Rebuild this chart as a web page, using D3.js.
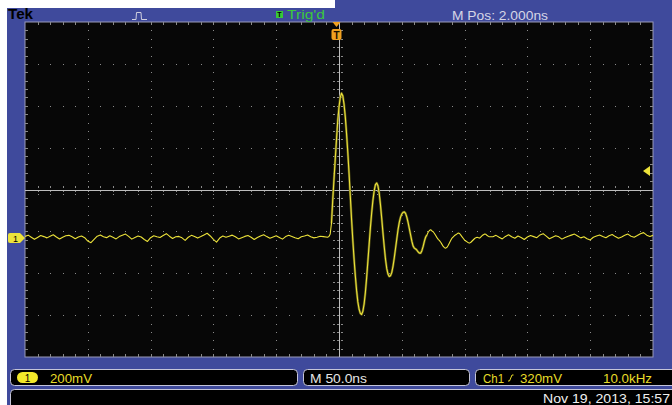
<!DOCTYPE html>
<html><head><meta charset="utf-8">
<script src="https://cdn.jsdelivr.net/npm/d3@7"></script>
<style>html,body{margin:0;padding:0;background:#fff;} svg{display:block}</style>
</head><body>
<svg id="c" width="672" height="405"></svg>
<script>
// ---- scope settings ----
const timePerDiv = 50;      // ns / div
const voltsPerDiv = 200;    // mV / div
const divsX = 10, divsY = 8, minorPerDiv = 5;
const ch1PositionDiv = -1.16;  // ground marker position (div from centre)
const triggerLevel = 320;      // mV
const triggerTime = -2;        // ns (M Pos 2.000ns)

// ---- labels ----
const brandLabel = "Tek";
const statusLabel = "Trig'd";
const mposLabel = "M Pos: 2.000ns";
const chanLabel = "1";
const scaleLabel = "200mV";
const timebaseLabel = "M 50.0ns";
const trigSrcLabel = "Ch1";
const trigLevelLabel = "320mV";
const freqLabel = "10.0kHz";
const dateLabel = "Nov 19, 2013, 15:57";

// ---- waveform samples (mV) ----
const leftNoiseStart = -250, leftNoiseStep = 2.5;
const leftNoise = [
  8,14,4,-6,3,12,7,1,9,16,5,-4,4,11,13,6,
  -3,5,10,2,-14,-22,-6,9,15,6,2,11,4,-4,7,13,
  19,8,-5,3,10,5,-7,-16,2,11,6,3,12,21,9,-2,
  6,8,1,-11,4,13,8,0,7,15,23,10,-6,-19,0,10,
  4,9,14,6,-4,2,8,12,4,-7,3,10,16,7,-1,5,
  11,3,-5,7,13,8,2,-3,6,10,15,6,1,4,9,7
];
const pulseStart = -9, pulseStep = 1;
const pulse = [
  4,8,20,70,180,280,375,470,560,625,
  672,692,680,640,580,500,410,310,200,90,
  -10,-100,-180,-250,-305,-340,-360,-365,-350,-315,
  -260,-190,-110,-30,50,120,180,225,255,263,
  250,215,160,95,25,-40,-100,-145,-172,-183,
  -180,-165,-135,-95,-50,-5,40,75,100,115,
  123,125,118,100,75,45,15,-15,-38,-48,
  -52,-58,-66,-72,-72,-60,-40,-15,5,15,
  28,36,40,34,30,22,12,2,-6,-12,
  -20,-30,-40,-46,-48,-44,-34,-22,-10,0,
  6,12,16,20,24,22,14,6,-2,-10,
  -14,-18,-22,-24,-20,-14,-8,-2,2,4,
  2,0,6,12,16,19,18,12,8,6
];
const rightNoiseStart = 122.5, rightNoiseStep = 2.5;
const rightNoise = [
  6,13,4,-4,8,16,6,-1,10,3,-7,5,12,
  7,2,15,21,9,-3,4,11,6,-5,3,9,14,
  19,10,1,6,-3,-9,4,10,15,8,2,11,17,
  7,-1,5,13,19,9,4,12,21,26,14,8,13
];

// ---- layout ----
const W = 672, H = 405;
const P = {l:25, r:653, t:22, b:357};
const BLUE = "#3f4a9c", FONT = "'Liberation Sans', Arial, sans-serif";
const YEL = "#ece23a";

const svg = d3.select("#c");

// backgrounds
svg.append("rect").attr("width",W).attr("height",H).attr("fill","#fff");
svg.append("rect").attr("x",7).attr("y",0).attr("width",W-7).attr("height",H).attr("fill",BLUE);
svg.append("rect").attr("x",0).attr("y",0).attr("width",335).attr("height",8).attr("fill","#fff");

// scales
const xd = d3.scaleLinear().domain([0,divsX]).range([P.l,P.r]);
const yd = d3.scaleLinear().domain([0,divsY]).range([P.t,P.b]);
const x = d3.scaleLinear().domain([-divsX/2*timePerDiv, divsX/2*timePerDiv]).range([P.l,P.r]);
const y = d3.scaleLinear()
  .domain([(-divsY/2 - ch1PositionDiv)*voltsPerDiv, (divsY/2 - ch1PositionDiv)*voltsPerDiv])
  .range([P.b,P.t]);

// graticule
svg.append("rect").attr("x",P.l).attr("y",P.t).attr("width",P.r-P.l).attr("height",P.b-P.t)
  .attr("fill","#070707").attr("stroke","#9a9ab8").attr("stroke-width",1);

const g = svg.append("g").attr("shape-rendering","crispEdges");
const dotCol = "#8a8a8a";
// dotted major lines
for (let i=1;i<divsX;i++){ if(i===divsX/2) continue;
  for (let m=1;m<divsY*minorPerDiv;m++){
    g.append("rect").attr("x",Math.round(xd(i))).attr("y",Math.round(yd(m/minorPerDiv)))
      .attr("width",1).attr("height",1).attr("fill",dotCol);
  }
}
for (let j=1;j<divsY;j++){ if(j===divsY/2) continue;
  for (let m=1;m<divsX*minorPerDiv;m++){
    g.append("rect").attr("x",Math.round(xd(m/minorPerDiv))).attr("y",Math.round(yd(j)))
      .attr("width",1).attr("height",1).attr("fill",dotCol);
  }
}
// edge ticks
for (let m=1;m<divsX*minorPerDiv;m++){
  const xx = Math.round(xd(m/minorPerDiv))+0.5;
  g.append("line").attr("x1",xx).attr("x2",xx).attr("y1",P.t).attr("y2",P.t+3).attr("stroke","#8a8a8a");
  g.append("line").attr("x1",xx).attr("x2",xx).attr("y1",P.b-3).attr("y2",P.b).attr("stroke","#8a8a8a");
  const yc = Math.round(yd(divsY/2));
  g.append("line").attr("x1",xx).attr("x2",xx).attr("y1",yc-4).attr("y2",yc+5).attr("stroke","#8a8a8a").attr("stroke-dasharray","2,2");
}
for (let m=1;m<divsY*minorPerDiv;m++){
  const yy = Math.round(yd(m/minorPerDiv))+0.5;
  g.append("line").attr("y1",yy).attr("y2",yy).attr("x1",P.l).attr("x2",P.l+3).attr("stroke","#8a8a8a");
  g.append("line").attr("y1",yy).attr("y2",yy).attr("x1",P.r-3).attr("x2",P.r).attr("stroke","#8a8a8a");
  const xc = Math.round(xd(divsX/2));
  g.append("line").attr("y1",yy).attr("y2",yy).attr("x1",xc-6).attr("x2",xc+6).attr("stroke","#8a8a8a").attr("stroke-dasharray","2,2");
}
// centre lines
g.append("line").attr("x1",Math.round(xd(divsX/2))+0.5).attr("x2",Math.round(xd(divsX/2))+0.5)
  .attr("y1",P.t).attr("y2",P.b).attr("stroke","#bdbdbd");
g.append("line").attr("y1",Math.round(yd(divsY/2))+0.5).attr("y2",Math.round(yd(divsY/2))+0.5)
  .attr("x1",P.l).attr("x2",P.r).attr("stroke","#bdbdbd");

// waveform
const leftPts = leftNoise.map((v,i)=>[leftNoiseStart+i*leftNoiseStep, v]);
const pulsePts = pulse.map((v,i)=>[pulseStart+i*pulseStep, v]);
const rightPts = rightNoise.map((v,i)=>[rightNoiseStart+i*rightNoiseStep, v]);
const pts = leftPts.concat(pulsePts, rightPts);
svg.append("clipPath").attr("id","clip").append("rect")
  .attr("x",P.l).attr("y",P.t).attr("width",P.r-P.l).attr("height",P.b-P.t);
const line = d3.line().x(d=>x(d[0])).y(d=>y(d[1]));
const wg = svg.append("g").attr("clip-path","url(#clip)");
wg.append("path").datum(pulsePts.slice(3,80)).attr("d",line).attr("fill","none")
  .attr("stroke","#5e5a18").attr("stroke-width",2.4).attr("stroke-linejoin","round");
wg.append("path").datum(pts).attr("d",line).attr("fill","none")
  .attr("stroke",YEL).attr("stroke-width",1.1).attr("stroke-linejoin","round");

// trigger position marker
const tx = x(triggerTime);
svg.append("path").attr("d",`M${tx-4},${P.t} L${tx+4},${P.t} L${tx},${P.t+5} Z`).attr("fill","#f0a020");
svg.append("rect").attr("x",tx-5).attr("y",P.t+7).attr("width",10).attr("height",11).attr("rx",2).attr("fill","#f0a020");
svg.append("text").attr("x",tx).attr("y",P.t+16.5).attr("text-anchor","middle").attr("font-family",FONT)
  .attr("font-weight","bold").attr("font-size",10).attr("fill","#1a1000").text("T");

// trigger level arrow
const ty = y(triggerLevel);
svg.append("path").attr("d",`M${P.r-10},${ty} L${P.r-3},${ty-5} L${P.r-3},${ty+5} Z`).attr("fill",YEL);

// ground marker
const gy = y(0);
svg.append("path").attr("d",`M10,${gy-5} L20,${gy-5} L25,${gy} L20,${gy+5} L10,${gy+5} Q8,${gy+5} 8,${gy+3} L8,${gy-3} Q8,${gy-5} 10,${gy-5} Z`).attr("fill",YEL);
svg.append("text").attr("x",15.5).attr("y",gy+3.5).attr("text-anchor","middle").attr("font-family",FONT)
  .attr("font-size",9).attr("fill","#000").text(chanLabel);

// top bar
svg.append("text").attr("x",8).attr("y",18.5).attr("font-family",FONT).attr("font-weight","bold")
  .attr("font-size",14).attr("fill","#000").attr("textLength",25).attr("lengthAdjust","spacingAndGlyphs").text(brandLabel);
svg.append("path").attr("d","M132,19.5 L136,19.5 L136.5,12.5 L141,12.5 L141.5,19.5 L147,19.5")
  .attr("fill","none").attr("stroke","#cfcfdf").attr("stroke-width",1);
svg.append("rect").attr("x",276).attr("y",11).attr("width",7).attr("height",7).attr("fill","#38c838");
svg.append("text").attr("x",279.5).attr("y",17).attr("text-anchor","middle").attr("font-family",FONT)
  .attr("font-size",7).attr("font-weight","bold").attr("fill","#000").text("T");
svg.append("text").attr("x",287).attr("y",19).attr("font-family",FONT).attr("font-size",13)
  .attr("fill","#3cc83c").attr("textLength",38).attr("lengthAdjust","spacingAndGlyphs").text(statusLabel);
svg.append("text").attr("x",452).attr("y",20).attr("font-family",FONT).attr("font-size",13)
  .attr("fill","#d6d6e6").attr("textLength",96).attr("lengthAdjust","spacingAndGlyphs").text(mposLabel);

// bottom info boxes
const boxStroke = "#c4c4d8";
[[10,297],[303,469],[475,680]].forEach(([a,b])=>{
  svg.append("rect").attr("x",a+0.5).attr("y",369.5).attr("width",b-a).attr("height",16).attr("rx",4)
    .attr("fill","#000").attr("stroke",boxStroke).attr("stroke-width",1);
});
svg.append("rect").attr("x",10.5).attr("y",389.5).attr("width",680).attr("height",30).attr("rx",4)
  .attr("fill","#000").attr("stroke",boxStroke).attr("stroke-width",1);

svg.append("rect").attr("x",17).attr("y",372).attr("width",21).attr("height",11).attr("rx",5.5).attr("fill","#f2e82a");
svg.append("text").attr("x",27.5).attr("y",381.5).attr("text-anchor","middle").attr("font-family",FONT)
  .attr("font-size",10).attr("fill","#000").text(chanLabel);
svg.append("text").attr("x",50).attr("y",383).attr("font-family",FONT).attr("font-size",13)
  .attr("fill","#e8dc28").attr("textLength",42).attr("lengthAdjust","spacingAndGlyphs").text(scaleLabel);
svg.append("text").attr("x",310).attr("y",383).attr("font-family",FONT).attr("font-size",13)
  .attr("fill","#e6e6e6").attr("textLength",57).attr("lengthAdjust","spacingAndGlyphs").text(timebaseLabel);
svg.append("text").attr("x",483).attr("y",383).attr("font-family",FONT).attr("font-size",13)
  .attr("fill","#e8dc28").attr("textLength",21).attr("lengthAdjust","spacingAndGlyphs").text(trigSrcLabel);
svg.append("path").attr("d","M508,381 L509.5,381 L512,375 L513.5,375").attr("fill","none")
  .attr("stroke","#e8dc28").attr("stroke-width",1);
svg.append("text").attr("x",520).attr("y",383).attr("font-family",FONT).attr("font-size",13)
  .attr("fill","#e8dc28").attr("textLength",42).attr("lengthAdjust","spacingAndGlyphs").text(trigLevelLabel);
svg.append("text").attr("x",603).attr("y",383).attr("font-family",FONT).attr("font-size",13)
  .attr("fill","#e8dc28").attr("textLength",49).attr("lengthAdjust","spacingAndGlyphs").text(freqLabel);
svg.append("text").attr("x",543).attr("y",403).attr("font-family",FONT).attr("font-size",13)
  .attr("fill","#f0f0f0").attr("textLength",127).attr("lengthAdjust","spacingAndGlyphs").text(dateLabel);
</script>
</body></html>
